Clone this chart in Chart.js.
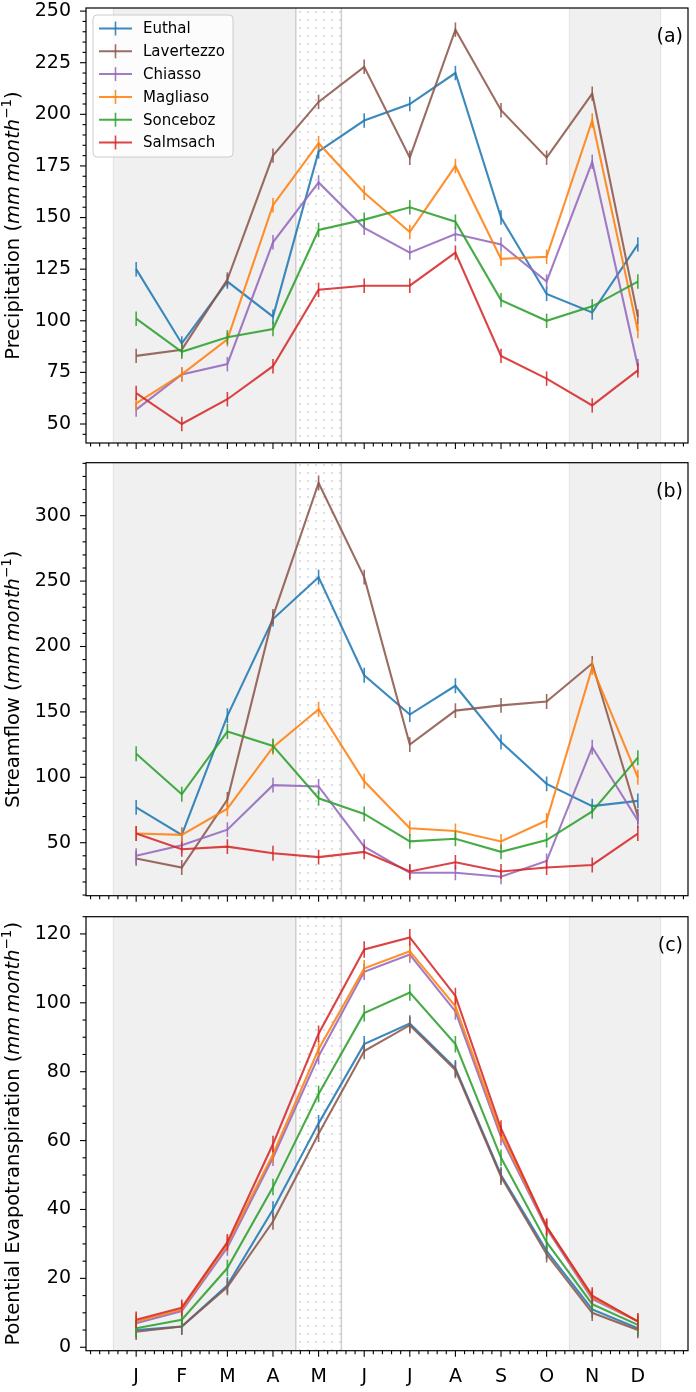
<!DOCTYPE html>
<html>
<head>
<meta charset="utf-8">
<script src="https://cdn.jsdelivr.net/npm/chart.js@4.4.1/dist/chart.umd.min.js"></script>
<style>
    html, body { margin: 0; padding: 0; background: #fff; }
    #wrap { position: relative; width: 696px; height: 1392px; }
    canvas { position: absolute; left: 0; }
</style>
</head>
<body>
<div id="wrap">
    <canvas id="chartPrecip" width="696" height="453" style="top:0px"></canvas>
    <canvas id="chartFlow" width="696" height="453" style="top:453px"></canvas>
    <canvas id="chartPet" width="696" height="486" style="top:906px"></canvas>
</div>
<script>
// months on the x axis (1 = January)
const months = [1, 2, 3, 4, 5, 6, 7, 8, 9, 10, 11, 12];
const monthLabels = ['J', 'F', 'M', 'A', 'M', 'J', 'J', 'A', 'S', 'O', 'N', 'D'];
const stations = ['Euthal', 'Lavertezzo', 'Chiasso', 'Magliaso', 'Sonceboz', 'Salmsach'];
const lineColors = ['rgba(31,119,180,0.87)', 'rgba(140,86,75,0.87)', 'rgba(148,103,189,0.87)',
                    'rgba(255,127,14,0.87)', 'rgba(44,160,44,0.87)', 'rgba(214,39,40,0.87)'];

// shaded seasons (month positions) and the hatched month
const grayBands = [[0.5, 4.5], [10.5, 12.5]];
const hatchBand = [4.5, 5.5];

// (a) precipitation, mm/month
const precipEuthal     = [125, 89, 119, 102, 182, 197, 205, 220, 150, 113, 104, 137];
const precipLavertezzo = [83, 86, 120, 180, 206, 223, 179, 241, 202, 179, 210, 102];
const precipChiasso    = [57, 74, 79, 138, 167, 145, 133, 142, 137, 119, 177, 78];
const precipMagliaso   = [60, 74, 91, 156, 186, 162, 143, 175, 130, 131, 197, 95];
const precipSonceboz   = [101, 85, 92, 96, 144, 149, 155, 148, 110, 100, 107, 119];
const precipSalmsach   = [65, 50, 62, 78, 115, 117, 117, 133, 83, 72, 59, 76];
const precipErr = 3.5;
const precipTicks = [50, 75, 100, 125, 150, 175, 200, 225, 250];

// (b) streamflow, mm/month
const flowEuthal     = [77, 56, 147, 221, 253, 178, 148, 170, 127, 95, 78, 82];
const flowLavertezzo = [38, 31, 83, 223, 325, 253, 125, 151, 155, 158, 187, 70];
const flowChiasso    = [40, 48, 60, 94, 93, 47, 27, 27, 24, 36, 123, 67];
const flowMagliaso   = [57, 56, 76, 123, 152, 97, 61, 59, 51, 67, 184, 100];
const flowSonceboz   = [118, 87, 135, 124, 84, 72, 51, 53, 43, 52, 74, 115];
const flowSalmsach   = [57, 45, 47, 42, 39, 43, 28, 35, 28, 31, 33, 57];
const flowErr = 5.7;
const flowTicks = [50, 100, 150, 200, 250, 300];

// (c) potential evapotranspiration, mm/month
const petEuthal     = [5, 6, 18, 40, 65, 88, 94, 81, 50, 28, 11, 5.5];
const petLavertezzo = [4.5, 6, 17.5, 36.5, 62, 86, 93.5, 80.5, 49.5, 27, 10, 5];
const petChiasso    = [7, 10.5, 29, 55, 84.5, 109, 114, 97.5, 61, 34.5, 14, 7.5];
const petMagliaso   = [7.5, 11, 30, 56, 86.5, 110, 115, 99, 62, 35, 14.5, 7.5];
const petSonceboz   = [5.5, 8, 23, 46.5, 73.5, 97, 103, 88, 55, 30.5, 12.5, 6.5];
const petSalmsach   = [8, 11.5, 30.5, 59, 91, 115.5, 119, 102, 63.5, 35, 15, 7.5];
const petErr = 2.4;
const petTicks = [0, 20, 40, 60, 80, 100, 120];

Chart.defaults.font.family = '"DejaVu Sans", sans-serif';

const FONT = '"DejaVu Sans", sans-serif';

function dotPattern(ctx) {
    const tile = document.createElement('canvas');
    tile.width = 8; tile.height = 8;
    const t = tile.getContext('2d');
    t.fillStyle = '#d6d6d6';
    t.beginPath();
    t.arc(4, 4, 1.1, 0, Math.PI * 2);
    t.fill();
    return ctx.createPattern(tile, 'repeat');
}

function drawYTitle(ctx, area, lead) {
    const parts = [
        [lead + ' (', '19.5px ' + FONT, 0],
        ['mm\u2009month', 'italic 19.5px ' + FONT, 0],
        ['\u22121', '13.5px ' + FONT, -8],
        [')', '19.5px ' + FONT, 0]
    ];
    let total = 0;
    parts.forEach(p => { ctx.font = p[1]; p.push(ctx.measureText(p[0]).width); total += p[3]; });
    ctx.save();
    ctx.translate(19, (area.top + area.bottom) / 2);
    ctx.rotate(-Math.PI / 2);
    ctx.fillStyle = '#000';
    ctx.textAlign = 'left';
    ctx.textBaseline = 'alphabetic';
    let x = -total / 2;
    parts.forEach(p => {
        ctx.font = p[1];
        ctx.fillText(p[0], x, p[2]);
        x += p[3];
    });
    ctx.restore();
}

function drawLegend(ctx, area) {
    const L = area.left + 7, T = area.top + 7, W = 140, H = 142, r = 4;
    ctx.save();
    ctx.beginPath();
    ctx.moveTo(L + r, T);
    ctx.lineTo(L + W - r, T); ctx.arcTo(L + W, T, L + W, T + r, r);
    ctx.lineTo(L + W, T + H - r); ctx.arcTo(L + W, T + H, L + W - r, T + H, r);
    ctx.lineTo(L + r, T + H); ctx.arcTo(L, T + H, L, T + H - r, r);
    ctx.lineTo(L, T + r); ctx.arcTo(L, T, L + r, T, r);
    ctx.closePath();
    ctx.fillStyle = 'rgba(255,255,255,0.8)';
    ctx.fill();
    ctx.strokeStyle = '#cccccc';
    ctx.lineWidth = 1;
    ctx.stroke();

    ctx.font = '15px ' + FONT;
    ctx.textAlign = 'left';
    ctx.textBaseline = 'middle';
    stations.forEach((name, i) => {
        const cy = area.top + 20.5 + i * 22.8;
        ctx.strokeStyle = lineColors[i];
        ctx.lineWidth = 2;
        ctx.beginPath(); ctx.moveTo(area.left + 13, cy); ctx.lineTo(area.left + 46, cy); ctx.stroke();
        ctx.lineWidth = 1.6;
        ctx.beginPath(); ctx.moveTo(area.left + 29.5, cy - 7); ctx.lineTo(area.left + 29.5, cy + 7); ctx.stroke();
        ctx.fillStyle = '#000';
        ctx.fillText(name, area.left + 57, cy + 1);
    });
    ctx.restore();
}

function decorPlugin(opt) {
    return {
        id: 'decor',
        beforeDatasetsDraw(chart) {
            const { ctx, chartArea: a, scales: { x } } = chart;
            ctx.save();
            ctx.beginPath(); ctx.rect(a.left, a.top, a.width, a.height); ctx.clip();
            ctx.fillStyle = '#f0f0f0';
            ctx.strokeStyle = '#e2e2e2';
            ctx.lineWidth = 1;
            grayBands.forEach(([s, e]) => {
                const x0 = x.getPixelForValue(s), x1 = x.getPixelForValue(e);
                ctx.fillRect(x0, a.top, x1 - x0, a.height);
                ctx.strokeRect(x0, a.top - 2, x1 - x0, a.height + 4);
            });
            const h0 = x.getPixelForValue(hatchBand[0]), h1 = x.getPixelForValue(hatchBand[1]);
            ctx.fillStyle = '#fff';
            ctx.fillRect(h0, a.top, h1 - h0, a.height);
            ctx.fillStyle = dotPattern(ctx);
            ctx.fillRect(h0, a.top, h1 - h0, a.height);
            ctx.strokeStyle = '#cfcfcf';
            ctx.lineWidth = 1.5;
            ctx.beginPath();
            ctx.moveTo(h0, a.top); ctx.lineTo(h0, a.bottom);
            ctx.moveTo(h1, a.top); ctx.lineTo(h1, a.bottom);
            ctx.stroke();
            ctx.restore();
        },
        afterDatasetDraw(chart, args) {
            const { ctx, chartArea: a, scales: { y } } = chart;
            const ds = chart.data.datasets[args.index];
            ctx.save();
            ctx.beginPath(); ctx.rect(a.left, a.top, a.width, a.height); ctx.clip();
            ctx.strokeStyle = ds.borderColor;
            ctx.lineWidth = 1.6;
            args.meta.data.forEach((pt, k) => {
                const v = ds.data[k].y;
                ctx.beginPath();
                ctx.moveTo(pt.x, y.getPixelForValue(v - opt.err));
                ctx.lineTo(pt.x, y.getPixelForValue(v + opt.err));
                ctx.stroke();
            });
            ctx.restore();
        },
        afterDraw(chart) {
            const { ctx, chartArea: a, scales: { x, y } } = chart;
            ctx.save();
            ctx.strokeStyle = '#000';
            ctx.lineWidth = 1.1;
            // x tick marks: majors on months, minors every 0.2
            for (let k = 0; k <= 65; k++) {
                const v = k / 5;
                if (v < x.min || v > x.max) continue;
                const major = k % 5 === 0 && v >= 1 && v <= 12;
                const px = x.getPixelForValue(v);
                ctx.beginPath(); ctx.moveTo(px, a.bottom); ctx.lineTo(px, a.bottom + (major ? 6 : 3.5)); ctx.stroke();
            }
            // y tick marks
            const step = opt.minorStep;
            for (let k = Math.ceil(y.min / step); k * step <= y.max; k++) {
                const v = k * step;
                const major = opt.yTicks.indexOf(v) >= 0;
                const py = y.getPixelForValue(v);
                ctx.beginPath(); ctx.moveTo(a.left, py); ctx.lineTo(a.left - (major ? 6 : 3.5), py); ctx.stroke();
            }
            ctx.lineWidth = 1.2;
            ctx.strokeRect(a.left, a.top, a.width, a.height);

            ctx.fillStyle = '#000';
            ctx.font = '19px ' + FONT;
            ctx.textAlign = 'right';
            ctx.textBaseline = 'middle';
            ctx.fillText(opt.tag, a.right - 5, a.top + 29);
            ctx.restore();

            drawYTitle(ctx, a, opt.title);
            if (opt.legend) drawLegend(ctx, a);
        }
    };
}

function makePanel(canvasId, opt) {
    const datasets = opt.series.map((vals, i) => ({
        label: stations[i],
        data: months.map((m, k) => ({ x: m, y: vals[k] })),
        borderColor: lineColors[i],
        borderWidth: 2.1,
        pointRadius: 0,
        tension: 0,
        fill: false,
        order: opt.series.length - i
    }));

    return new Chart(document.getElementById(canvasId), {
        type: 'line',
        data: { datasets: datasets },
        options: {
            responsive: false,
            animation: false,
            layout: { padding: { top: opt.padTop, right: 8, left: 0, bottom: 0 } },
            plugins: {
                legend: { display: false },
                tooltip: { enabled: false }
            },
            scales: {
                x: {
                    type: 'linear',
                    min: -0.1,
                    max: 13.1,
                    bounds: 'data',
                    grid: { display: false, drawTicks: false },
                    border: { display: false },
                    afterBuildTicks: function (s) { s.ticks = months.map(v => ({ value: v })); },
                    afterFit: function (s) {
                        s.height = opt.xHeight;
                        s.paddingLeft = 0; s.paddingRight = 0;
                    },
                    ticks: {
                        display: opt.xLabels,
                        autoSkip: false,
                        maxRotation: 0,
                        padding: 15,
                        color: '#000',
                        font: { size: 19 },
                        callback: function (value) { return monthLabels[value - 1]; }
                    }
                },
                y: {
                    type: 'linear',
                    min: opt.yMin,
                    max: opt.yMax,
                    bounds: 'data',
                    grid: { display: false, drawTicks: false },
                    border: { display: false },
                    afterBuildTicks: function (s) { s.ticks = opt.yTicks.map(v => ({ value: v })); },
                    afterFit: function (s) {
                        s.width = 86;
                        s.paddingTop = 0; s.paddingBottom = 0;
                    },
                    ticks: {
                        padding: 15,
                        color: '#000',
                        font: { size: 19 },
                        callback: function (value) { return String(value); }
                    }
                }
            }
        },
        plugins: [decorPlugin(opt)]
    });
}

makePanel('chartPrecip', {
    series: [precipEuthal, precipLavertezzo, precipChiasso, precipMagliaso, precipSonceboz, precipSalmsach],
    err: precipErr, yTicks: precipTicks, minorStep: 5, yMin: 40.8, yMax: 251.5,
    padTop: 8, xHeight: 10, xLabels: false, tag: '(a)', title: 'Precipitation', legend: true
});

makePanel('chartFlow', {
    series: [flowEuthal, flowLavertezzo, flowChiasso, flowMagliaso, flowSonceboz, flowSalmsach],
    err: flowErr, yTicks: flowTicks, minorStep: 10, yMin: 9.5, yMax: 340.5,
    padTop: 9.7, xHeight: 10.3, xLabels: false, tag: '(b)', title: 'Streamflow', legend: false
});

makePanel('chartPet', {
    series: [petEuthal, petLavertezzo, petChiasso, petMagliaso, petSonceboz, petSalmsach],
    err: petErr, yTicks: petTicks, minorStep: 5, yMin: -1, yMax: 125,
    padTop: 10.7, xHeight: 41.3, xLabels: true, tag: '(c)', title: 'Potential Evapotranspiration', legend: false
});
</script>
</body>
</html>
